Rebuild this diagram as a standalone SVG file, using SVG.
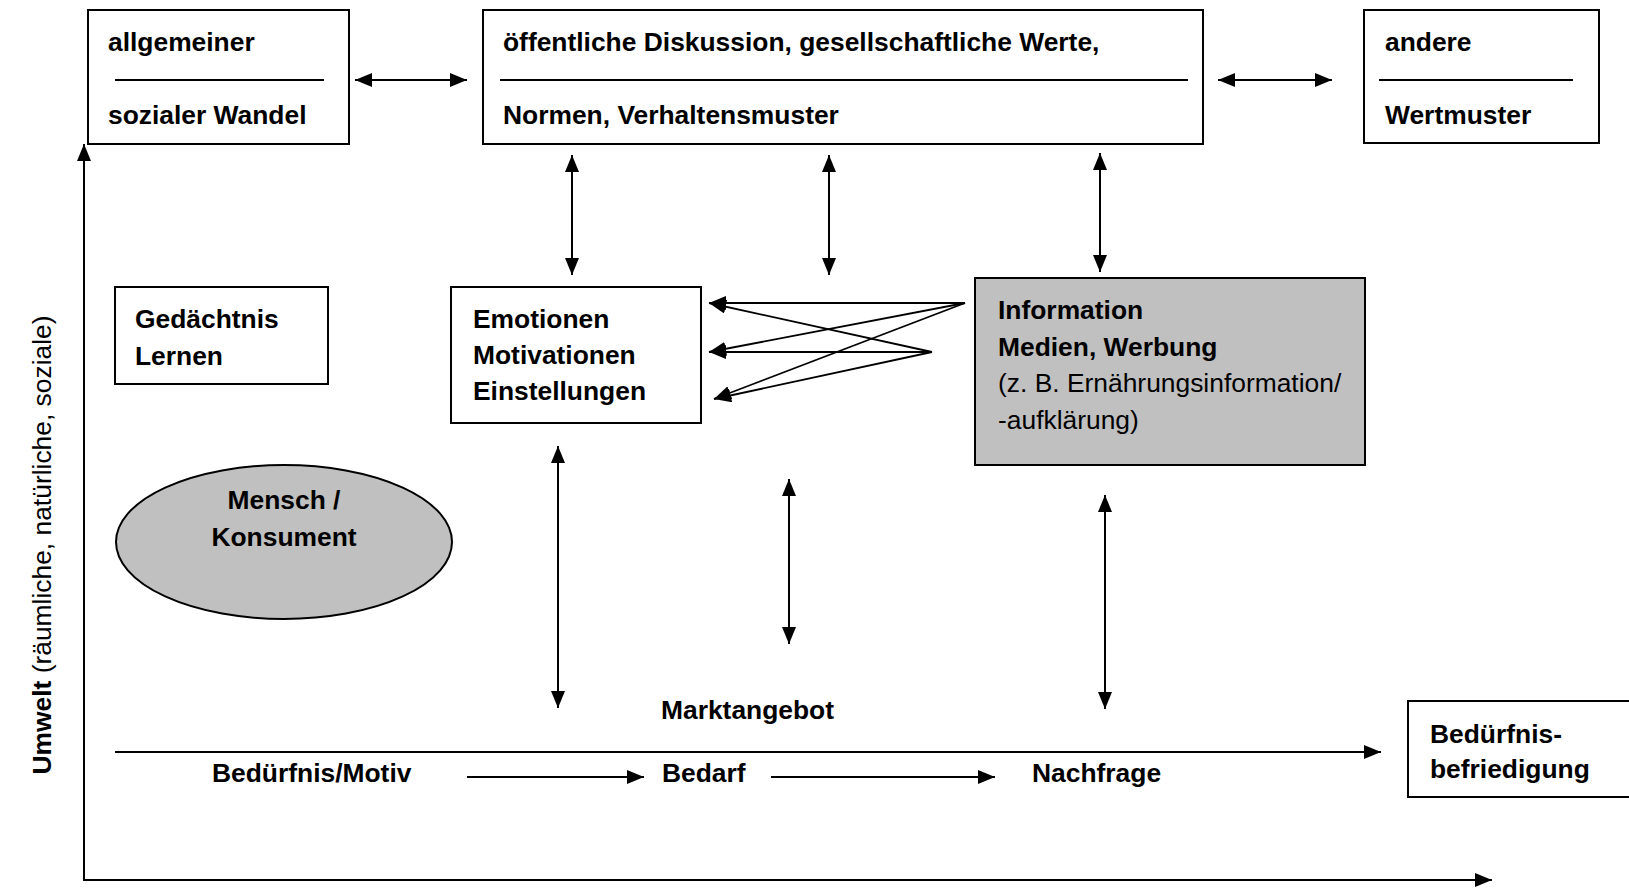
<svg xmlns="http://www.w3.org/2000/svg" width="1629" height="888" viewBox="0 0 1629 888">
  <style>
    .box { fill: #ffffff; stroke: #000000; stroke-width: 2; }
    .grey { fill: #c0c0c0; stroke: #000000; stroke-width: 2; }
    .rule { stroke: #000000; stroke-width: 2; }
    .t { font-family: "Liberation Sans", Arial, sans-serif; font-size: 26.4px; fill: #000000; }
    .b { font-weight: bold; }
    .edge { stroke: #000000; stroke-width: 2; fill: none; }
    .thin { stroke: #000000; stroke-width: 1.8; fill: none; }
  </style>
  <defs>
    <marker id="head" markerUnits="userSpaceOnUse" markerWidth="18" markerHeight="14" refX="17" refY="7" orient="auto-start-reverse">
      <path d="M0,0 L17,7 L0,14 z" fill="#000000"/>
    </marker>
  </defs>

  <rect width="1629" height="888" fill="#ffffff"/>

  <!-- top row -->
  <g id="sozialer-wandel">
    <rect class="box" x="88" y="10" width="261" height="134"/>
    <line class="rule" x1="115" y1="80" x2="324" y2="80"/>
    <text class="t b" x="108" y="51">allgemeiner</text>
    <text class="t b" x="108" y="124">sozialer Wandel</text>
  </g>
  <g id="werte">
    <rect class="box" x="483" y="10" width="720" height="134"/>
    <line class="rule" x1="500" y1="80" x2="1188" y2="80"/>
    <text class="t b" x="503" y="51">öffentliche Diskussion, gesellschaftliche Werte,</text>
    <text class="t b" x="503" y="124">Normen, Verhaltensmuster</text>
  </g>
  <g id="wertmuster">
    <rect class="box" x="1364" y="10" width="235" height="133"/>
    <line class="rule" x1="1379" y1="80" x2="1573" y2="80"/>
    <text class="t b" x="1385" y="51">andere</text>
    <text class="t b" x="1385" y="124">Wertmuster</text>
  </g>

  <!-- middle row -->
  <g id="gedaechtnis">
    <rect class="box" x="115" y="287" width="213" height="97"/>
    <text class="t b" x="135" y="328">Gedächtnis</text>
    <text class="t b" x="135" y="365">Lernen</text>
  </g>
  <g id="emotionen">
    <rect class="box" x="451" y="287" width="250" height="136"/>
    <text class="t b" x="473" y="328">Emotionen</text>
    <text class="t b" x="473" y="364">Motivationen</text>
    <text class="t b" x="473" y="400">Einstellungen</text>
  </g>
  <g id="information">
    <rect class="grey" x="975" y="278" width="390" height="187"/>
    <text class="t b" x="998" y="319">Information</text>
    <text class="t b" x="998" y="356">Medien, Werbung</text>
    <text class="t" x="998" y="392">(z. B. Ernährungsinformation/</text>
    <text class="t" x="998" y="429">-aufklärung)</text>
  </g>
  <g id="konsument">
    <ellipse class="grey" cx="284" cy="542" rx="168" ry="77"/>
    <text class="t b" x="284" y="509" text-anchor="middle">Mensch /</text>
    <text class="t b" x="284" y="546" text-anchor="middle">Konsument</text>
  </g>

  <!-- lower row -->
  <g id="marktangebot">
    <text class="t b" x="661" y="719">Marktangebot</text>
  </g>
  <g id="beduerfnis-motiv">
    <text class="t b" x="212" y="782">Bedürfnis/Motiv</text>
  </g>
  <g id="bedarf">
    <text class="t b" x="662" y="782">Bedarf</text>
  </g>
  <g id="nachfrage">
    <text class="t b" x="1032" y="782">Nachfrage</text>
  </g>
  <g id="befriedigung">
    <rect class="box" x="1408" y="701" width="240" height="96"/>
    <text class="t b" x="1430" y="743">Bedürfnis-</text>
    <text class="t b" x="1430" y="778">befriedigung</text>
  </g>

  <!-- axis caption -->
  <g id="umwelt">
    <text class="t" transform="translate(51,545) rotate(-90)" text-anchor="middle"><tspan class="b">Umwelt</tspan> (räumliche, natürliche, soziale)</text>
  </g>

  <g id="connectors">
    <!-- horizontal links in the top row -->
    <line class="edge" x1="355" y1="80" x2="467" y2="80" marker-start="url(#head)" marker-end="url(#head)"/>
    <line class="edge" x1="1218" y1="80" x2="1332" y2="80" marker-start="url(#head)" marker-end="url(#head)"/>

    <!-- vertical links below the values box -->
    <line class="edge" x1="572" y1="155" x2="572" y2="275" marker-start="url(#head)" marker-end="url(#head)"/>
    <line class="edge" x1="829" y1="155" x2="829" y2="275" marker-start="url(#head)" marker-end="url(#head)"/>
    <line class="edge" x1="1100" y1="153" x2="1100" y2="272" marker-start="url(#head)" marker-end="url(#head)"/>

    <!-- vertical links down to the market row -->
    <line class="edge" x1="558" y1="446" x2="558" y2="708" marker-start="url(#head)" marker-end="url(#head)"/>
    <line class="edge" x1="789" y1="479" x2="789" y2="644" marker-start="url(#head)" marker-end="url(#head)"/>
    <line class="edge" x1="1105" y1="495" x2="1105" y2="709" marker-start="url(#head)" marker-end="url(#head)"/>

    <!-- crossing influence arrows from the information box -->
    <line class="thin" x1="965" y1="303" x2="709" y2="303" marker-end="url(#head)"/>
    <line class="thin" x1="932" y1="352" x2="709" y2="303" marker-end="url(#head)"/>
    <line class="thin" x1="965" y1="303" x2="709" y2="352" marker-end="url(#head)"/>
    <line class="thin" x1="932" y1="352" x2="709" y2="352" marker-end="url(#head)"/>
    <line class="thin" x1="965" y1="303" x2="714" y2="399" marker-end="url(#head)"/>
    <line class="thin" x1="932" y1="352" x2="714" y2="399" marker-end="url(#head)"/>

    <!-- process line -->
    <line class="edge" x1="115" y1="752" x2="1381" y2="752" marker-end="url(#head)"/>
    <line class="edge" x1="467" y1="777" x2="644" y2="777" marker-end="url(#head)"/>
    <line class="edge" x1="771" y1="777" x2="995" y2="777" marker-end="url(#head)"/>

    <!-- axes -->
    <polyline class="edge" points="84,144 84,880 1492,880" marker-start="url(#head)" marker-end="url(#head)"/>
  </g>
</svg>
